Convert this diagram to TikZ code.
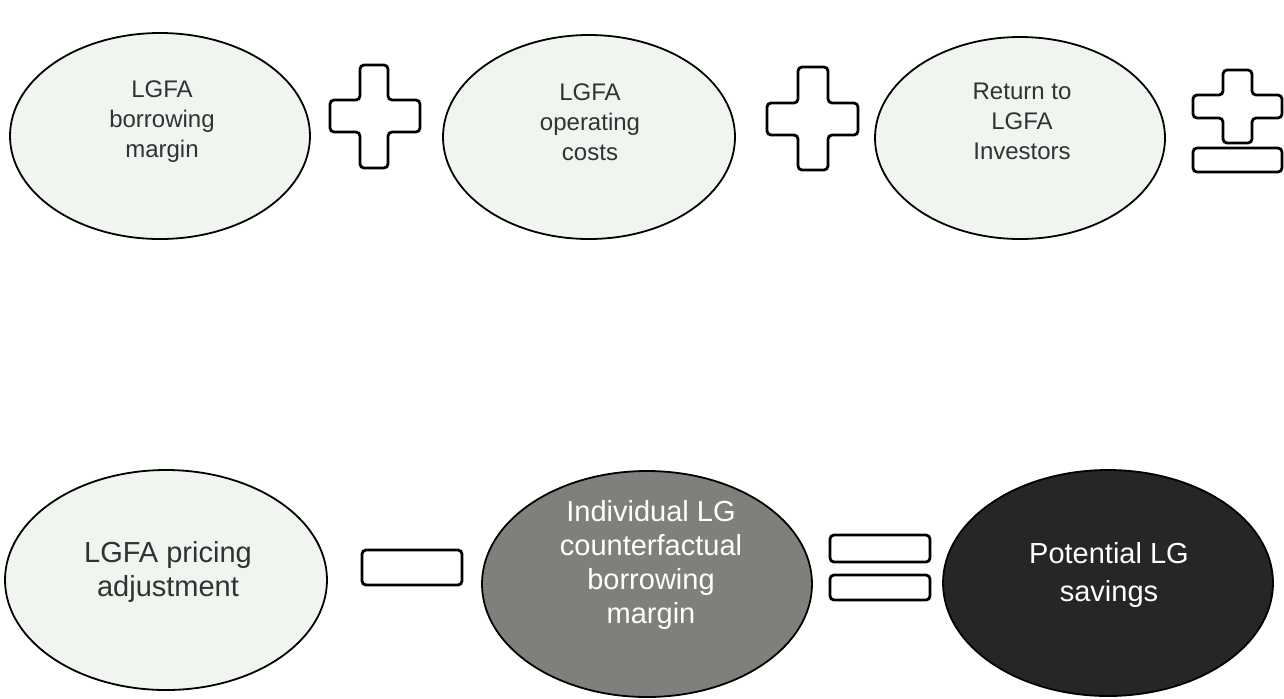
\documentclass[tikz,border=0pt]{standalone}
\usepackage{fontspec}
\setmainfont{Liberation Sans}
\usepackage{tikz}

\definecolor{paleFill}{RGB}{240,245,240}
\definecolor{midFill}{RGB}{127,128,124}
\definecolor{darkFill}{RGB}{38,38,38}
\definecolor{txtGray}{RGB}{50,50,52}

\begin{document}
\begin{tikzpicture}[x=0.5pt,y=0.5pt,yscale=-1,xscale=1,
  oval/.style={draw=black,line width=0.9pt},
  opsign/.style={draw=black,fill=white,line width=1.4pt,rounded corners=2pt},
  toplbl/.style={align=center,text=txtGray,font=\fontsize{12}{15}\selectfont},
  botlbl/.style={align=center,font=\fontsize{14.5}{17}\selectfont}]
\path[use as bounding box] (0,0) rectangle (1284,698);

%Shape: Ellipse [top left]
\draw [oval,fill=paleFill] (160,136) ellipse (150 and 103);
%Shape: Ellipse [top middle]
\draw [oval,fill=paleFill] (589,137) ellipse (146 and 102);
%Shape: Ellipse [top right]
\draw [oval,fill=paleFill] (1020,138) ellipse (145 and 101);

%Shape: Plus
\draw [opsign] (330,100) -- (360,100) -- (360,65) -- (388,65) -- (388,100) -- (420,100) -- (420,132) -- (388,132) -- (388,168) -- (360,168) -- (360,132) -- (330,132) -- cycle;
%Shape: Plus
\draw [opsign] (767,103) -- (798,103) -- (798,67) -- (828,67) -- (828,103) -- (858,103) -- (858,135) -- (828,135) -- (828,170) -- (798,170) -- (798,135) -- (767,135) -- cycle;
%Shape: Plus (of plus-minus)
\draw [opsign] (1193,95) -- (1223,95) -- (1223,70) -- (1252,70) -- (1252,95) -- (1282,95) -- (1282,118) -- (1252,118) -- (1252,143) -- (1223,143) -- (1223,118) -- (1193,118) -- cycle;
%Shape: Rectangle (of plus-minus)
\draw [opsign] (1193,148) rectangle (1282,172);

%Shape: Ellipse [bottom left]
\draw [oval,fill=paleFill] (166,580) ellipse (161 and 110);
%Shape: Ellipse [bottom middle]
\draw [oval,fill=midFill] (647,584) ellipse (165 and 113);
%Shape: Ellipse [bottom right]
\draw [oval,fill=darkFill] (1108,583) ellipse (165 and 113);

%Shape: Minus
\draw [opsign] (362,550) rectangle (462,585);
%Shape: Equals
\draw [opsign] (830,535) rectangle (930,562);
\draw [opsign] (830,575) rectangle (930,600);

% Text Node
\node [toplbl] (borrow) at (162,122) {LGFA\\borrowing\\margin};
% Text Node
\node [toplbl] (opcost) at (590,122) {LGFA\\operating\\costs};
% Text Node
\node [toplbl] (investors) at (1022,121) {Return to\\LGFA\\Investors};
% Text Node
\node [botlbl,text=txtGray] (pricing) at (168,572) {LGFA pricing\\adjustment};
% Text Node
\node [botlbl,text=white] (counterfact) at (651,565) {Individual LG\\counterfactual\\borrowing\\margin};
% Text Node
\node [botlbl,text=white,font=\fontsize{14.5}{19}\selectfont] (savings) at (1109,575) {Potential LG\\savings};
\end{tikzpicture}
\end{document}
